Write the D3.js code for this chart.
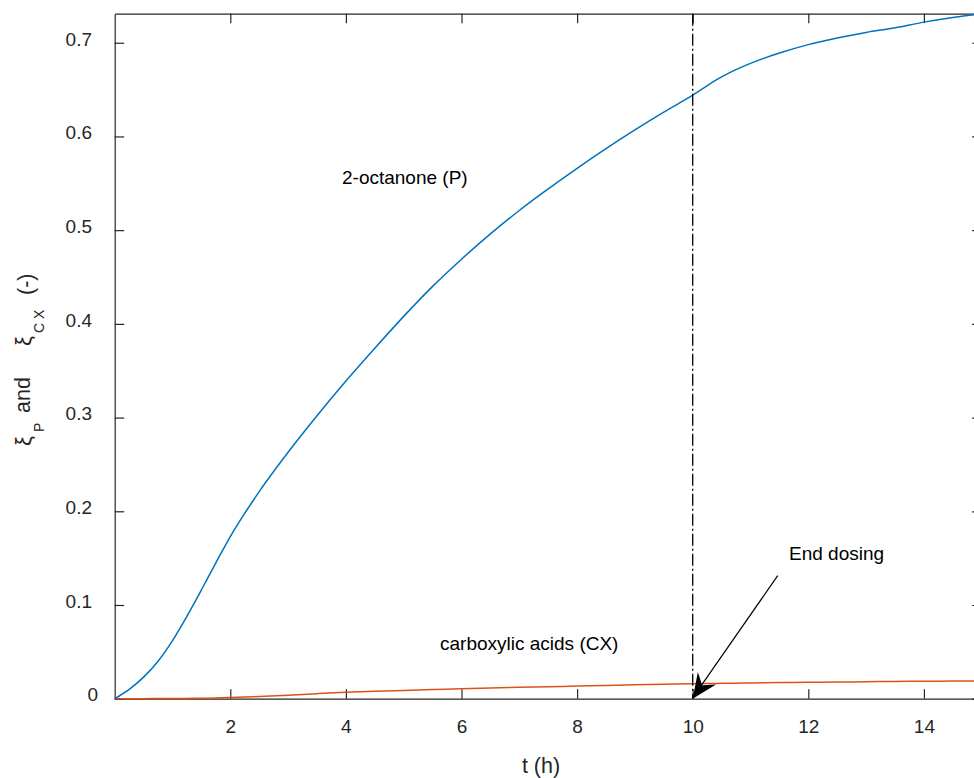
<!DOCTYPE html>
<html><head><meta charset="utf-8">
<script src="https://cdn.jsdelivr.net/npm/d3@7"></script>
<style>body{margin:0;background:#fff} text{font-family:"Liberation Sans",Arial,Helvetica,sans-serif}</style>
</head><body><svg id="c" width="974" height="778"></svg>
<script>
// ---- data ----
const tHours = [0,0.25,0.5,0.75,1.0,1.25,1.5,1.75,2.0,2.5,3.0,3.5,4.0,4.5,5.0,5.5,6.0,6.5,7.0,7.5,8.0,8.5,9.0,9.5,10.0,10.2,10.4,10.7,11.0,11.5,12.0,12.5,13.0,13.5,14.0,14.5,15.0];
const octanone = [0,0.010,0.023,0.040,0.062,0.088,0.116,0.145,0.173,0.221,0.263,0.302,0.339,0.374,0.408,0.440,0.469,0.496,0.521,0.544,0.566,0.587,0.607,0.626,0.644,0.652,0.660,0.670,0.678,0.689,0.698,0.705,0.711,0.716,0.722,0.727,0.731];
const carboxylic = [0,0.00002,0.00006,0.00012,0.0002,0.0003,0.0005,0.0008,0.0012,0.0024,0.0038,0.0054,0.0068,0.0079,0.0088,0.0097,0.0106,0.0114,0.0121,0.0128,0.0135,0.0142,0.0148,0.0154,0.0159,0.0161,0.0163,0.0166,0.0168,0.0172,0.0175,0.0178,0.0181,0.0184,0.0186,0.0188,0.0190];
const xTicks = [2,4,6,8,10,12,14];
const yTicks = [0,0.1,0.2,0.3,0.4,0.5,0.6,0.7];
const xDomain = [0,15];
const yDomain = [0,0.731];
const endDosingT = 10;
const labels = {p:"2-octanone (P)", cx:"carboxylic acids (CX)", end:"End dosing", x:"t (h)"};

// ---- layout ----
const L=114.7, R=981.7, T=13.7, B=698.7;
const axisCol="#262626";
const svg=d3.select("#c");
const x=d3.scaleLinear().domain(xDomain).range([L,R]);
const y=d3.scaleLinear().domain(yDomain).range([B,T]);

function styleAxis(g){
  g.selectAll("path.domain").attr("stroke",axisCol).attr("stroke-width",1.2);
  g.selectAll(".tick line").attr("stroke",axisCol).attr("stroke-width",1.2);
  g.selectAll(".tick text").attr("fill",axisCol).style("font-size","19px").style("font-family",'"Liberation Sans",Arial,sans-serif');
}
const gx=svg.append("g").attr("transform",`translate(0,${B})`)
  .call(d3.axisBottom(x).tickValues(xTicks).tickSizeInner(-9.5).tickSizeOuter(0).tickPadding(20.5).tickFormat(d3.format("d")));
styleAxis(gx);
const gxt=svg.append("g").attr("transform",`translate(0,${T})`)
  .call(d3.axisTop(x).tickValues(xTicks).tickSizeInner(-9.5).tickSizeOuter(0).tickFormat(""));
styleAxis(gxt);
const gy=svg.append("g").attr("transform",`translate(${L},0)`)
  .call(d3.axisLeft(y).tickValues(yTicks).tickSizeInner(-9.5).tickSizeOuter(0).tickPadding(22.7).tickFormat(d=>d===0?"0":d3.format(".1f")(d)));
styleAxis(gy);
gy.selectAll(".tick text").attr("dy","0.12em").attr("dx",d=>d===0?6:0);
const gyr=svg.append("g").attr("transform",`translate(${R},0)`)
  .call(d3.axisRight(y).tickValues(yTicks).tickSizeInner(-9.5).tickSizeOuter(0).tickFormat(""));
styleAxis(gyr);

// ---- lines ----
const line=(vals)=>d3.line().x((d,i)=>x(tHours[i])).y(d=>y(d)).curve(d3.curveMonotoneX)(vals);
svg.append("path").attr("d",line(carboxylic)).attr("fill","none").attr("stroke","#D95319").attr("stroke-width",1.5);
svg.append("path").attr("d",line(octanone)).attr("fill","none").attr("stroke","#0072BD").attr("stroke-width",1.5);

// end-dosing line
svg.append("line").attr("x1",x(endDosingT)).attr("x2",x(endDosingT)).attr("y1",T).attr("y2",B)
  .attr("stroke","#000").attr("stroke-width",1.3).attr("stroke-dasharray","12,3,2,3");

// arrow
const tip=[x(endDosingT), y(0)];
const tail=[777.7,575.7];
svg.append("line").attr("x1",tail[0]).attr("y1",tail[1]).attr("x2",tip[0]+5).attr("y2",tip[1]-8)
  .attr("stroke","#000").attr("stroke-width",1.2);
const ang=Math.atan2(tail[1]-tip[1],tail[0]-tip[0])*180/Math.PI;
svg.append("path").attr("transform",`translate(${tip[0]},${tip[1]}) rotate(${ang})`)
  .attr("d","M0,0 L25,-11 L16.5,0 L25,11 Z").attr("fill","#000");

// annotations
svg.append("text").attr("x",342).attr("y",184).style("font-size","19px").attr("fill","#000").text(labels.p);
svg.append("text").attr("x",440).attr("y",650).style("font-size","19px").attr("fill","#000").text(labels.cx);
svg.append("text").attr("x",789).attr("y",560).style("font-size","19px").attr("fill","#000").text(labels.end);
svg.append("text").attr("x",541).attr("y",773).attr("text-anchor","middle").style("font-size","21.5px").attr("fill",axisCol).text(labels.x);

// y label (rotated pieces)
const yl=svg.append("g").attr("transform","rotate(-90)").attr("fill",axisCol);
const piece=(s,px,py,fs)=>yl.append("text").attr("x",-py).attr("y",px).style("font-size",fs+"px").text(s);
piece("ξ",31,446,22);
piece("P",44,432,14);
piece("and",30,413,21.5);
piece("ξ",31,346,22);
piece("C X",44,333,14);
piece("(-)",33,295,21.5);
</script></body></html>
